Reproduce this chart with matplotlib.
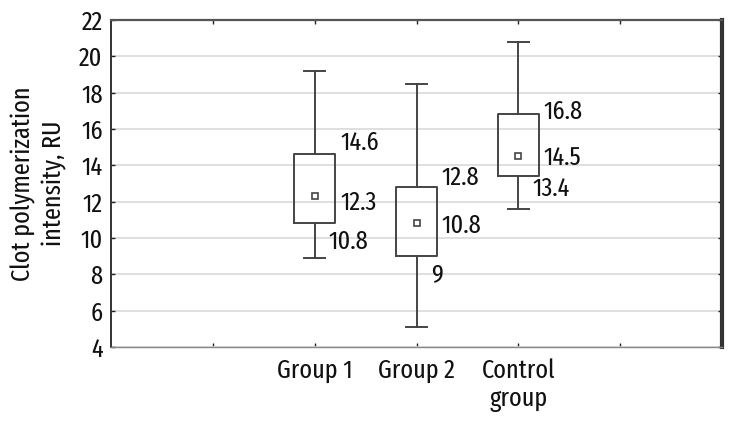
import matplotlib
matplotlib.use('Agg')
import matplotlib.pyplot as plt

# Box plot data
groups = ['Group 1', 'Group 2', 'Control\ngroup']
positions = [2, 3, 4]
whisker_low = [8.9, 5.1, 11.6]
q1 = [10.8, 9.0, 13.4]
median = [12.3, 10.8, 14.5]
q3 = [14.6, 12.8, 16.8]
whisker_high = [19.2, 18.5, 20.8]

# where the value labels sit relative to each box (data units)
q3_label_dy = [0.63, 0.5, 0.15]
med_label_dy = [-0.37, -0.1, -0.1]
q1_label_dy = [-1.0, -1.03, -0.7]

plt.rcParams['font.family'] = ['Fira Sans Extra Condensed', 'Barlow Condensed', 'DejaVu Sans']
text_color = '#111111'
line_color = '#444444'

fig = plt.figure(figsize=(7.34, 4.24), dpi=100)
ax = fig.add_axes([0.1512, 0.1816, 0.8325, 0.7712])

stats = []
for i in range(len(groups)):
    stats.append({'whislo': whisker_low[i], 'q1': q1[i], 'med': median[i],
                  'q3': q3[i], 'whishi': whisker_high[i], 'fliers': []})

ax.bxp(stats, positions=positions, widths=0.4, showfliers=False,
       boxprops=dict(color=line_color, linewidth=1.4),
       whiskerprops=dict(color=line_color, linewidth=1.4),
       capprops=dict(color=line_color, linewidth=1.4),
       medianprops=dict(linestyle='none'),
       capwidths=0.2)

# small square marker for the median
ax.plot(positions, median, linestyle='none', marker='s', markersize=4.5,
        markerfacecolor='white', markeredgecolor=line_color, markeredgewidth=1.2)

# value labels
fs = 19
for i, x in enumerate(positions):
    ax.text(x + 0.25, q3[i] + q3_label_dy[i], f'{q3[i]:g}', fontsize=fs,
            ha='left', va='center', color=text_color)
    ax.text(x + 0.25, median[i] + med_label_dy[i], f'{median[i]:g}', fontsize=fs,
            ha='left', va='center', color=text_color)
    ax.text(x + 0.14, q1[i] + q1_label_dy[i], f'{q1[i]:g}', fontsize=fs,
            ha='left', va='center', color=text_color)

ax.set_xlim(0, 6)
ax.set_ylim(4, 22)
ax.set_yticks(range(4, 23, 2))
ax.set_xticks([1, 2, 3, 4, 5])
ax.set_xticklabels(['', groups[0], groups[1], groups[2], ''], linespacing=1.15)

ax.yaxis.grid(True, color='#d9d9d9', linewidth=1.2)
ax.set_axisbelow(True)

ax.tick_params(axis='both', direction='in', length=3, width=1, color='#222222',
               labelsize=fs, labelcolor=text_color, top=True, right=True)
ax.tick_params(axis='y', pad=6)
ax.tick_params(axis='x', pad=8)

ax.spines['left'].set_color('#333333')
ax.spines['left'].set_linewidth(1.4)
ax.spines['top'].set_color('#555555')
ax.spines['top'].set_linewidth(1.6)
ax.spines['bottom'].set_color('#888888')
ax.spines['bottom'].set_linewidth(1.0)
ax.spines['right'].set_color('#333333')
ax.spines['right'].set_linewidth(3.0)

ax.set_ylabel('Clot polymerization\nintensity, RU', fontsize=fs, color=text_color,
              linespacing=1.3, labelpad=9)

fig.savefig('out.png', dpi=100)
